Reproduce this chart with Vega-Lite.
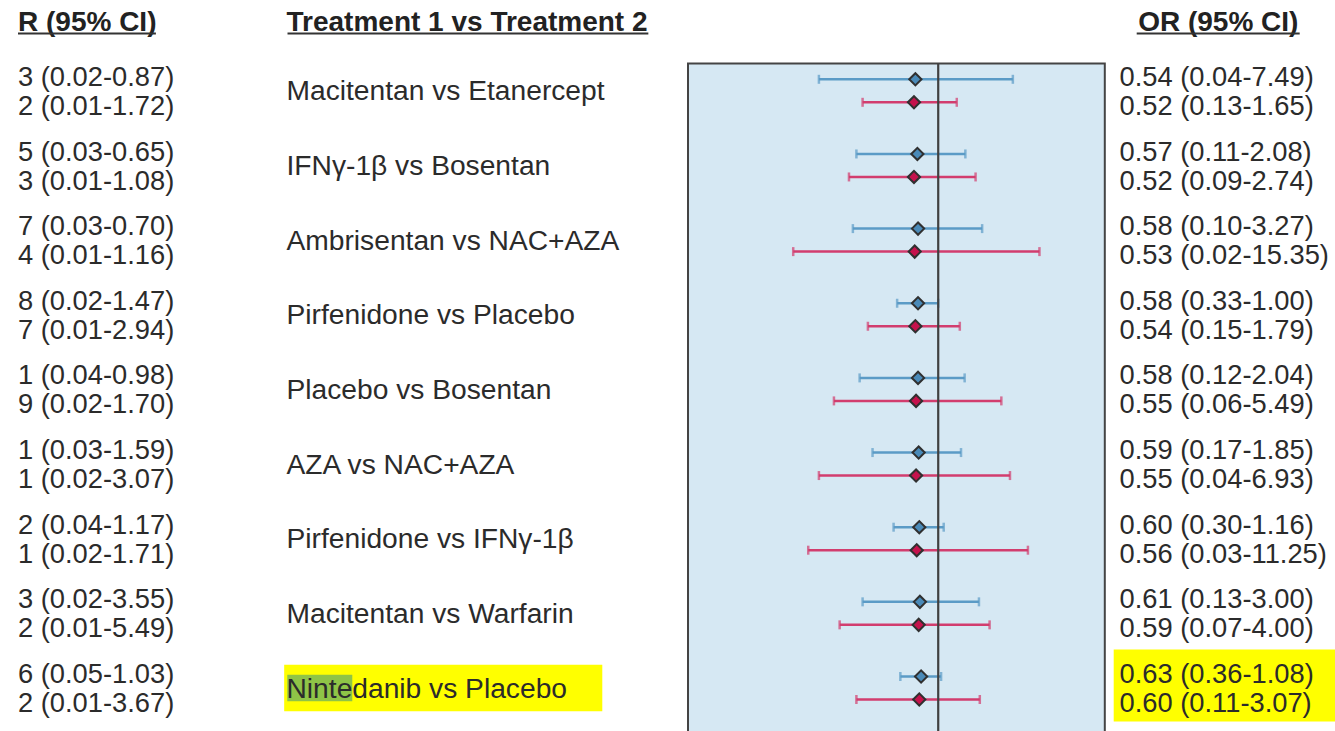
{
  "$schema": "https://vega.github.io/schema/vega-lite/v6.json",
  "autosize": {"type": "none"},
  "padding": {"left": 18, "top": 63.5, "right": 1317, "bottom": 667.5},
  "background": "white",
  "spacing": 14.5,
  "bounds": "flush",
  "config": {"view": {"stroke": null}, "font": "Liberation Sans"},
  "data": {"values": [
    {"cmp": "Macitentan vs Etanercept", "series": "s1", "or": 0.54, "lo": 0.04, "hi": 7.49, "left": "3 (0.02-0.87)", "right": "0.54 (0.04-7.49)"},
    {"cmp": "Macitentan vs Etanercept", "series": "s2", "or": 0.52, "lo": 0.13, "hi": 1.65, "left": "2 (0.01-1.72)", "right": "0.52 (0.13-1.65)"},
    {"cmp": "IFNγ-1β vs Bosentan", "series": "s1", "or": 0.57, "lo": 0.11, "hi": 2.08, "left": "5 (0.03-0.65)", "right": "0.57 (0.11-2.08)"},
    {"cmp": "IFNγ-1β vs Bosentan", "series": "s2", "or": 0.52, "lo": 0.09, "hi": 2.74, "left": "3 (0.01-1.08)", "right": "0.52 (0.09-2.74)"},
    {"cmp": "Ambrisentan vs NAC+AZA", "series": "s1", "or": 0.58, "lo": 0.10, "hi": 3.27, "left": "7 (0.03-0.70)", "right": "0.58 (0.10-3.27)"},
    {"cmp": "Ambrisentan vs NAC+AZA", "series": "s2", "or": 0.53, "lo": 0.02, "hi": 15.35, "left": "4 (0.01-1.16)", "right": "0.53 (0.02-15.35)"},
    {"cmp": "Pirfenidone vs Placebo", "series": "s1", "or": 0.58, "lo": 0.33, "hi": 1.00, "left": "8 (0.02-1.47)", "right": "0.58 (0.33-1.00)"},
    {"cmp": "Pirfenidone vs Placebo", "series": "s2", "or": 0.54, "lo": 0.15, "hi": 1.79, "left": "7 (0.01-2.94)", "right": "0.54 (0.15-1.79)"},
    {"cmp": "Placebo vs Bosentan", "series": "s1", "or": 0.58, "lo": 0.12, "hi": 2.04, "left": "1 (0.04-0.98)", "right": "0.58 (0.12-2.04)"},
    {"cmp": "Placebo vs Bosentan", "series": "s2", "or": 0.55, "lo": 0.06, "hi": 5.49, "left": "9 (0.02-1.70)", "right": "0.55 (0.06-5.49)"},
    {"cmp": "AZA vs NAC+AZA", "series": "s1", "or": 0.59, "lo": 0.17, "hi": 1.85, "left": "1 (0.03-1.59)", "right": "0.59 (0.17-1.85)"},
    {"cmp": "AZA vs NAC+AZA", "series": "s2", "or": 0.55, "lo": 0.04, "hi": 6.93, "left": "1 (0.02-3.07)", "right": "0.55 (0.04-6.93)"},
    {"cmp": "Pirfenidone vs IFNγ-1β", "series": "s1", "or": 0.60, "lo": 0.30, "hi": 1.16, "left": "2 (0.04-1.17)", "right": "0.60 (0.30-1.16)"},
    {"cmp": "Pirfenidone vs IFNγ-1β", "series": "s2", "or": 0.56, "lo": 0.03, "hi": 11.25, "left": "1 (0.02-1.71)", "right": "0.56 (0.03-11.25)"},
    {"cmp": "Macitentan vs Warfarin", "series": "s1", "or": 0.61, "lo": 0.13, "hi": 3.00, "left": "3 (0.02-3.55)", "right": "0.61 (0.13-3.00)"},
    {"cmp": "Macitentan vs Warfarin", "series": "s2", "or": 0.59, "lo": 0.07, "hi": 4.00, "left": "2 (0.01-5.49)", "right": "0.59 (0.07-4.00)"},
    {"cmp": "Nintedanib vs Placebo", "series": "s1", "or": 0.63, "lo": 0.36, "hi": 1.08, "left": "6 (0.05-1.03)", "right": "0.63 (0.36-1.08)"},
    {"cmp": "Nintedanib vs Placebo", "series": "s2", "or": 0.60, "lo": 0.11, "hi": 3.07, "left": "2 (0.01-3.67)", "right": "0.60 (0.11-3.07)"}
  ]},
  "hconcat": [
    {
      "width": 253.5, "height": 690,
      "layer": [
        {
          "transform": [{"filter": "datum.series === 's1'"}],
          "mark": {"type": "text", "align": "left", "baseline": "middle", "fontSize": 27.3, "color": "#2b2b2b", "dy": -1.4},
          "encoding": {
            "x": {"datum": 0, "type": "quantitative", "scale": {"domain": [0, 100], "nice": false, "zero": false}, "axis": null},
            "y": {"field": "cmp", "type": "nominal", "scale": {"domain": ["Macitentan vs Etanercept", "IFNγ-1β vs Bosentan", "Ambrisentan vs NAC+AZA", "Pirfenidone vs Placebo", "Placebo vs Bosentan", "AZA vs NAC+AZA", "Pirfenidone vs IFNγ-1β", "Macitentan vs Warfarin", "Nintedanib vs Placebo"], "paddingInner": 0.5, "paddingOuter": 0.3716, "align": 0.1557, "round": false}, "axis": null},
            "yOffset": {"field": "series", "type": "nominal", "scale": {"domain": ["s1", "s2"], "paddingInner": 0.5, "paddingOuter": 0.0614, "align": 0.5, "round": false}},
            "text": {"field": "left"}
          }
        },
        {
          "transform": [{"filter": "datum.series === 's2'"}],
          "mark": {"type": "text", "align": "left", "baseline": "middle", "fontSize": 27.3, "color": "#2b2b2b", "dy": 4.6},
          "encoding": {
            "x": {"datum": 0, "type": "quantitative"},
            "y": {"field": "cmp", "type": "nominal"},
            "yOffset": {"field": "series", "type": "nominal"},
            "text": {"field": "left"}
          }
        },
        {
          "data": {"values": [{"h": "R (95% CI)"}]},
          "mark": {"type": "text", "align": "left", "baseline": "middle", "fontSize": 28, "fontWeight": "bold", "color": "#222222", "dy": -67.7},
          "encoding": {
            "x": {"datum": 0, "type": "quantitative"},
            "y": {"datum": "Macitentan vs Etanercept", "type": "nominal"},
            "text": {"field": "h"}
          }
        },
        {
          "data": {"values": [{"h": "R (95% CI)"}]},
          "mark": {"type": "rule", "color": "#333333", "strokeWidth": 2, "yOffset": -57.3},
          "encoding": {
            "x": {"datum": 0, "type": "quantitative"},
            "x2": {"datum": 54.4},
            "y": {"datum": "Macitentan vs Etanercept", "type": "nominal"}
          }
        }
      ]
    },
    {
      "width": 387, "height": 690,
      "layer": [
        {
          "data": {"values": [{"h": "highlight"}]},
          "mark": {"type": "rect", "color": "#ffff00", "height": {"band": 1.25}},
          "encoding": {
            "x": {"datum": -0.6, "type": "quantitative", "scale": {"domain": [0, 100], "nice": false, "zero": false}, "axis": null},
            "x2": {"datum": 81.6},
            "y": {"datum": "Nintedanib vs Placebo", "type": "nominal", "scale": {"domain": ["Macitentan vs Etanercept", "IFNγ-1β vs Bosentan", "Ambrisentan vs NAC+AZA", "Pirfenidone vs Placebo", "Placebo vs Bosentan", "AZA vs NAC+AZA", "Pirfenidone vs IFNγ-1β", "Macitentan vs Warfarin", "Nintedanib vs Placebo"], "paddingInner": 0.5, "paddingOuter": 0.3716, "align": 0.1557, "round": false}, "axis": null}
          }
        },
        {
          "data": {"values": [{"h": "highlight"}]},
          "mark": {"type": "rect", "color": "#8fc447", "height": {"band": 0.715}},
          "encoding": {
            "x": {"datum": 0.2, "type": "quantitative"},
            "x2": {"datum": 17.0},
            "y": {"datum": "Nintedanib vs Placebo", "type": "nominal"}
          }
        },
        {
          "transform": [{"filter": "datum.series === 's1'"}],
          "mark": {"type": "text", "align": "left", "baseline": "middle", "fontSize": 28.2, "color": "#2b2b2b", "dy": 1.6},
          "encoding": {
            "x": {"datum": 0, "type": "quantitative"},
            "y": {"field": "cmp", "type": "nominal"},
            "text": {"field": "cmp"}
          }
        },
        {
          "data": {"values": [{"h": "Treatment 1 vs Treatment 2"}]},
          "mark": {"type": "text", "align": "left", "baseline": "middle", "fontSize": 28, "fontWeight": "bold", "color": "#222222", "dy": -67.7},
          "encoding": {
            "x": {"datum": 0, "type": "quantitative"},
            "y": {"datum": "Macitentan vs Etanercept", "type": "nominal"},
            "text": {"field": "h"}
          }
        },
        {
          "data": {"values": [{"h": "Treatment 1 vs Treatment 2"}]},
          "mark": {"type": "rule", "color": "#333333", "strokeWidth": 2, "yOffset": -57.3},
          "encoding": {
            "x": {"datum": 0.26, "type": "quantitative"},
            "x2": {"datum": 93.5},
            "y": {"datum": "Macitentan vs Etanercept", "type": "nominal"}
          }
        }
      ]
    },
    {
      "width": 416.8, "height": 690,
      "view": {"fill": "#d6e8f3", "stroke": "#444444", "strokeWidth": 2},
      "layer": [
        {
          "mark": {"type": "rule", "strokeWidth": 2.5},
          "encoding": {
            "x": {"field": "lo", "type": "quantitative", "scale": {"type": "log", "domain": [0.00117, 89.5], "nice": false}, "axis": null},
            "x2": {"field": "hi"},
            "y": {"field": "cmp", "type": "nominal", "scale": {"domain": ["Macitentan vs Etanercept", "IFNγ-1β vs Bosentan", "Ambrisentan vs NAC+AZA", "Pirfenidone vs Placebo", "Placebo vs Bosentan", "AZA vs NAC+AZA", "Pirfenidone vs IFNγ-1β", "Macitentan vs Warfarin", "Nintedanib vs Placebo"], "paddingInner": 0.5, "paddingOuter": 0.3716, "align": 0.1557, "round": false}, "axis": null},
            "yOffset": {"field": "series", "type": "nominal"},
            "color": {"field": "series", "type": "nominal", "scale": {"domain": ["s1", "s2"], "range": ["#5b9bc6", "#d23d6e"]}, "legend": null}
          }
        },
        {
          "mark": {"type": "tick", "thickness": 2.5, "size": 9},
          "encoding": {
            "x": {"field": "lo", "type": "quantitative"},
            "y": {"field": "cmp", "type": "nominal"},
            "yOffset": {"field": "series", "type": "nominal"},
            "color": {"field": "series", "type": "nominal", "legend": null}
          }
        },
        {
          "mark": {"type": "tick", "thickness": 2.5, "size": 9},
          "encoding": {
            "x": {"field": "hi", "type": "quantitative"},
            "y": {"field": "cmp", "type": "nominal"},
            "yOffset": {"field": "series", "type": "nominal"},
            "color": {"field": "series", "type": "nominal", "legend": null}
          }
        },
        {
          "data": {"values": [{"ref": 1}]},
          "mark": {"type": "rule", "color": "#404040", "strokeWidth": 2.2},
          "encoding": {
            "x": {"field": "ref", "type": "quantitative"}
          }
        },
        {
          "mark": {"type": "point", "shape": "diamond", "filled": true, "size": 150, "stroke": "#303030", "strokeWidth": 2, "opacity": 1},
          "encoding": {
            "x": {"field": "or", "type": "quantitative"},
            "y": {"field": "cmp", "type": "nominal"},
            "yOffset": {"field": "series", "type": "nominal"},
            "fill": {"field": "series", "type": "nominal", "scale": {"domain": ["s1", "s2"], "range": ["#4a8ab8", "#c5124c"]}, "legend": null}
          }
        }
      ]
    },
    {
      "width": 200, "height": 690,
      "layer": [
        {
          "data": {"values": [{"h": "highlight"}]},
          "mark": {"type": "rect", "color": "#ffff00", "height": {"band": 1.93}, "yOffset": -2.6},
          "encoding": {
            "x": {"datum": -2.9, "type": "quantitative", "scale": {"domain": [0, 100], "nice": false, "zero": false}, "axis": null},
            "x2": {"datum": 108.1},
            "y": {"datum": "Nintedanib vs Placebo", "type": "nominal", "scale": {"domain": ["Macitentan vs Etanercept", "IFNγ-1β vs Bosentan", "Ambrisentan vs NAC+AZA", "Pirfenidone vs Placebo", "Placebo vs Bosentan", "AZA vs NAC+AZA", "Pirfenidone vs IFNγ-1β", "Macitentan vs Warfarin", "Nintedanib vs Placebo"], "paddingInner": 0.5, "paddingOuter": 0.3716, "align": 0.1557, "round": false}, "axis": null}
          }
        },
        {
          "transform": [{"filter": "datum.series === 's1'"}],
          "mark": {"type": "text", "align": "left", "baseline": "middle", "fontSize": 27.3, "color": "#2b2b2b", "dy": -1.4},
          "encoding": {
            "x": {"datum": 0, "type": "quantitative"},
            "y": {"field": "cmp", "type": "nominal"},
            "yOffset": {"field": "series", "type": "nominal"},
            "text": {"field": "right"}
          }
        },
        {
          "transform": [{"filter": "datum.series === 's2'"}],
          "mark": {"type": "text", "align": "left", "baseline": "middle", "fontSize": 27.3, "color": "#2b2b2b", "dy": 4.6},
          "encoding": {
            "x": {"datum": 0, "type": "quantitative"},
            "y": {"field": "cmp", "type": "nominal"},
            "yOffset": {"field": "series", "type": "nominal"},
            "text": {"field": "right"}
          }
        },
        {
          "data": {"values": [{"h": "OR (95% CI)"}]},
          "mark": {"type": "text", "align": "center", "baseline": "middle", "fontSize": 28, "fontWeight": "bold", "color": "#222222", "dy": -67.7},
          "encoding": {
            "x": {"datum": 49.4, "type": "quantitative"},
            "y": {"datum": "Macitentan vs Etanercept", "type": "nominal"},
            "text": {"field": "h"}
          }
        },
        {
          "data": {"values": [{"h": "OR (95% CI)"}]},
          "mark": {"type": "rule", "color": "#333333", "strokeWidth": 2, "yOffset": -57.3},
          "encoding": {
            "x": {"datum": 8.6, "type": "quantitative"},
            "x2": {"datum": 90.1},
            "y": {"datum": "Macitentan vs Etanercept", "type": "nominal"}
          }
        }
      ]
    }
  ]
}
